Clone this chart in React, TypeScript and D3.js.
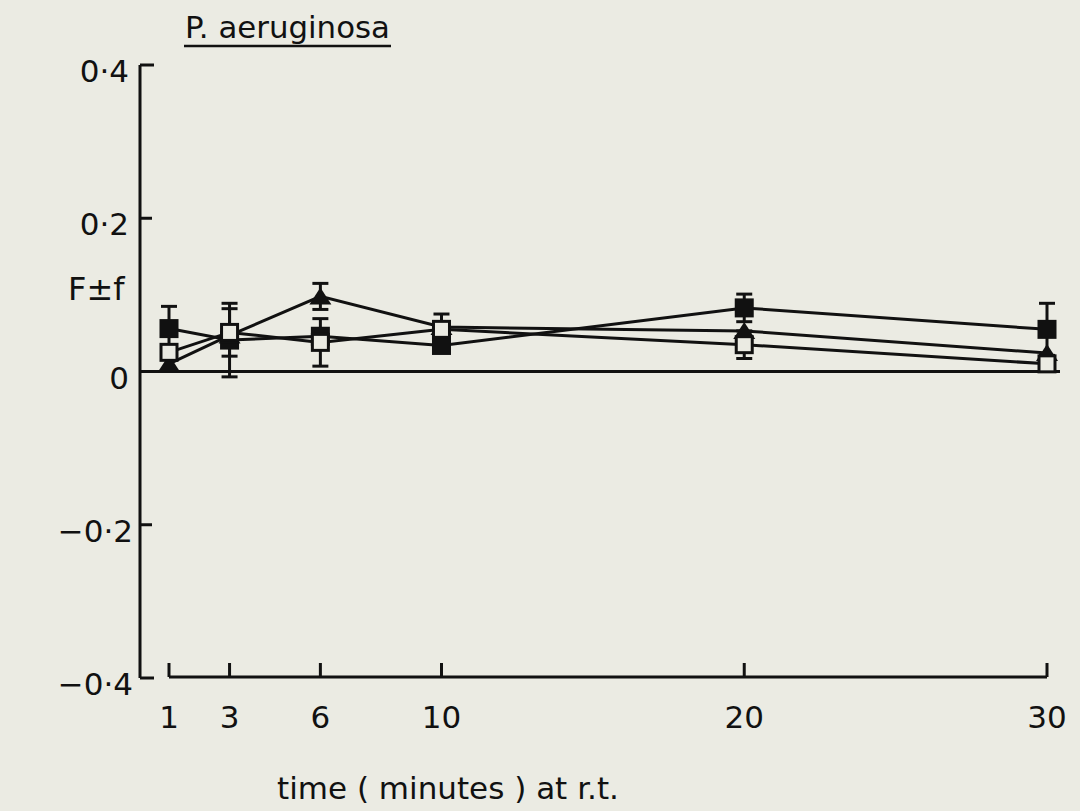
import React from "react";
import * as d3 from "d3";

const times = [1, 3, 6, 10, 20, 30];
const xTickLabels = ["1", "3", "6", "10", "20", "30"];
const yTicks = [0.4, 0.2, 0, -0.2, -0.4];
const yTickLabels = ["0·4", "0·2", "0", "−0·2", "−0·4"];

const filledSquare = [0.056, 0.041, 0.046, 0.034, 0.083, 0.055];
const filledSquareErr = [0.029, 0.048, 0, 0, 0.018, 0.034];
const openSquare = [0.025, 0.051, 0.038, 0.055, 0.035, 0.01];
const openSquareErr = [0, 0.031, 0.031, 0.02, 0.018, 0];
const triangle = [0.01, 0.047, 0.098, 0.058, 0.053, 0.024];
const triangleErr = [0, 0, 0.017, 0, 0, 0];

const W = 1080;
const H = 811;
const BG = "#ebebe3";
const INK = "#111";
const FONT = "'DejaVu Sans', sans-serif";

export default function App() {
  const x = d3.scaleLinear().domain([1, 30]).range([169, 1047]);
  const y = d3.scaleLinear().domain([-0.4, 0.4]).range([678, 65]);
  const line = d3
    .line<number>()
    .x((_, i) => x(times[i]))
    .y((d) => y(d));

  const series = [
    { vals: filledSquare, err: filledSquareErr, kind: "fsq" },
    { vals: triangle, err: triangleErr, kind: "tri" },
    { vals: openSquare, err: openSquareErr, kind: "osq" },
  ];

  const s = 19;
  const capW = 16;

  return (
    <svg
      width={W}
      height={H}
      style={{ position: "absolute", left: 0, top: 0, background: BG }}
    >
      <rect x={0} y={0} width={W} height={H} fill={BG} />
      {/* Title */}
      <text x={185} y={38} fontFamily={FONT} fontSize={30} fill={INK} textLength={205} lengthAdjust="spacingAndGlyphs">
        P. aeruginosa
      </text>
      <line x1={184} x2={391} y1={46} y2={46} stroke={INK} strokeWidth={2.5} />

      {/* Y axis */}
      <line x1={140} x2={140} y1={y(0.4)} y2={y(-0.4)} stroke={INK} strokeWidth={3} />
      {yTicks.map((t, i) => (
        <g key={i}>
          <line x1={140} x2={t === 0.4 || t === -0.4 ? 154 : 152} y1={y(t)} y2={y(t)} stroke={INK} strokeWidth={3} />
          <text
            x={t < 0 ? 133 : 129}
            y={y(t) + 17}
            textAnchor="end"
            fontFamily={FONT}
            fontSize={31}
            fill={INK}
          >
            {yTickLabels[i]}
          </text>
        </g>
      ))}
      <text x={68} y={300} fontFamily={FONT} fontSize={32} fill={INK}>
        F±f
      </text>

      {/* Zero line */}
      <line x1={140} x2={1060} y1={y(0)} y2={y(0)} stroke={INK} strokeWidth={3} />

      {/* X axis */}
      <line x1={x(1)} x2={x(30)} y1={677} y2={677} stroke={INK} strokeWidth={3} />
      {times.map((t, i) => (
        <g key={i}>
          <line x1={x(t)} x2={x(t)} y1={663} y2={677} stroke={INK} strokeWidth={3} />
          <text
            x={x(t)}
            y={728}
            textAnchor="middle"
            fontFamily={FONT}
            fontSize={31}
            fill={INK}
          >
            {xTickLabels[i]}
          </text>
        </g>
      ))}
      <text x={277} y={799} fontFamily={FONT} fontSize={31} fill={INK}>
        time ( minutes ) at r.t.
      </text>

      {/* Lines */}
      {series.map((ser, k) => (
        <path key={k} d={line(ser.vals) || ""} fill="none" stroke={INK} strokeWidth={3} />
      ))}

      {/* Error bars */}
      {series.map((ser, k) =>
        ser.vals.map((v, i) =>
          ser.err[i] > 0 ? (
            <g key={`${k}-${i}`} stroke={INK} strokeWidth={3}>
              <line x1={x(times[i])} x2={x(times[i])} y1={y(v + ser.err[i])} y2={y(v - ser.err[i])} />
              <line x1={x(times[i]) - capW / 2} x2={x(times[i]) + capW / 2} y1={y(v + ser.err[i])} y2={y(v + ser.err[i])} />
              <line x1={x(times[i]) - capW / 2} x2={x(times[i]) + capW / 2} y1={y(v - ser.err[i])} y2={y(v - ser.err[i])} />
            </g>
          ) : null
        )
      )}

      {/* Markers */}
      {series.map((ser, k) =>
        ser.vals.map((v, i) => {
          const cx = x(times[i]);
          const cy = y(v);
          if (ser.kind === "fsq")
            return <rect key={`m${k}-${i}`} x={cx - s / 2} y={cy - s / 2} width={s} height={s} fill={INK} />;
          if (ser.kind === "osq")
            return (
              <rect
                key={`m${k}-${i}`}
                x={cx - s / 2 + 1.5}
                y={cy - s / 2 + 1.5}
                width={s - 3}
                height={s - 3}
                fill={BG}
                stroke={INK}
                strokeWidth={3}
              />
            );
          return (
            <path
              key={`m${k}-${i}`}
              d={`M${cx - 11},${cy + 8} L${cx + 11},${cy + 8} L${cx},${cy - 9} Z`}
              fill={INK}
            />
          );
        })
      )}
    </svg>
  );
}
